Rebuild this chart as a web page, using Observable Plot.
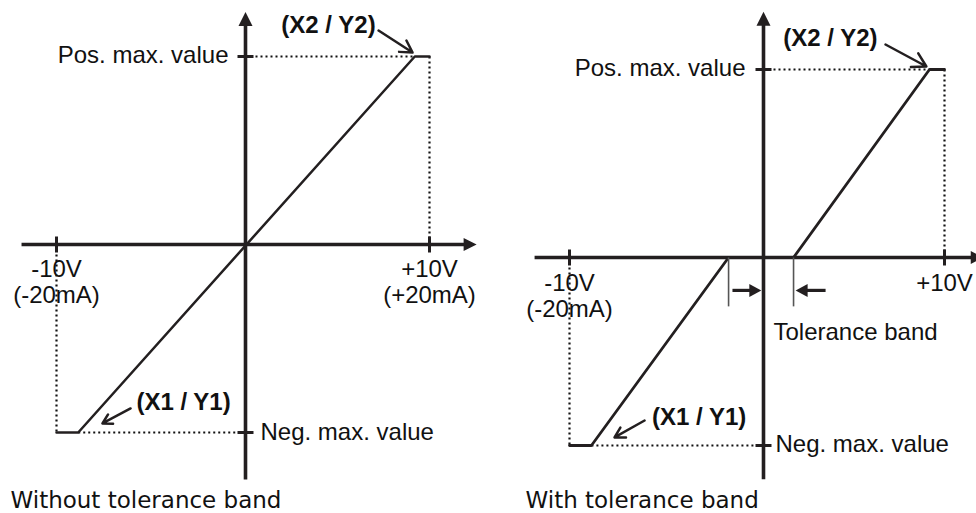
<!DOCTYPE html>
<html><head><meta charset="utf-8">
<script src="https://cdn.jsdelivr.net/npm/d3@7"></script>
<script src="https://cdn.jsdelivr.net/npm/@observablehq/plot@0.6"></script>
<style>
html,body{margin:0;padding:0;background:#fff;overflow:hidden;}
#wrap{display:flex;width:976px;height:513px;overflow:hidden;background:#fff;}
#wrap svg{flex:none;}
</style></head><body><div id="wrap"></div>
<script>
// ---------------- shared values ----------------
const xTicks = [-10, 10];                 // -10V / +10V
const yTicks = [-1, 1];                   // neg. / pos. max. value
const yTickLabels = ["Neg. max. value", "Pos. max. value"];
const pointLabels = ["(X1 / Y1)", "(X2 / Y2)"];

// ---------------- left panel: without tolerance band ----------------
const leftCurveX = [-10, -8.85, 9.2, 10];
const leftCurveY = [-1, -1, 1, 1];
const leftXAxis = [-11.85, 12.28];
const leftYAxis = [-1.25, 1.207];
const leftTickLabels = ["-10V\n(-20mA)", "+10V\n(+20mA)"];
const leftPointLabelX = [-3.28, 4.51];
const leftPointLabelY = [-0.84, 1.165];
const leftPointerX1 = [-6.08, 7.23];
const leftPointerY1 = [-0.872, 1.138];
const leftPointerX2 = [-7.57, 9.08];
const leftPointerY2 = [-0.952, 1.021];
const leftCaption = "Without tolerance band";

// ---------------- right panel: with tolerance band ----------------
const rightCurveX = [-10, -8.87, -1.8, 1.66, 9.17, 10];
const rightCurveY = [-1, -1, 0, 0, 1, 1];
const rightXAxis = [-11.8, 11.88];
const rightYAxis = [-1.18, 1.277];
const rightTickLabels = ["-10V\n(-20mA)", "+10V"];
const rightPointLabelX = [-3.32, 3.70];
const rightPointLabelY = [-0.851, 1.165];
const rightPointerX1 = [-6.13, 6.74];
const rightPointerY1 = [-0.867, 1.133];
const rightPointerX2 = [-7.68, 9.0];
const rightPointerY2 = [-0.957, 1.016];
const bandEdgesX = [-1.8, 1.66];
const bandEdgeDepth = -0.26;
const bandArrowFromX = [-1.6, 3.43];
const bandArrowToX = [-0.36, 2.04];
const bandArrowY = -0.175;
const bandLabel = "Tolerance band";
const bandLabelX = 0.55;
const bandLabelY = -0.399;
const rightCaption = "With tolerance band";

// ---------------- helpers ----------------
const INK = "#231f20";
const SANS = "'Liberation Sans', Arial, sans-serif";
const CAP = "'DejaVu Sans', Verdana, sans-serif";

// filled triangle pointing right, tip slightly ahead of the anchor point
function triangle(L, W) {
  return {draw(ctx) { ctx.moveTo(0.4 * L, 0); ctx.lineTo(-0.6 * L, -W / 2); ctx.lineTo(-0.6 * L, W / 2); ctx.closePath(); }};
}
// short bar used as a tick mark
function bar(h) {
  return {draw(ctx) { ctx.moveTo(0, -h); ctx.lineTo(0, h); }};
}

function panel(o) {
  const curve = o.curveX.map((x, i) => ({x, y: o.curveY[i]}));
  const n = curve.length;
  const guides = [
    {x1: xTicks[0], y1: 0, x2: xTicks[0], y2: yTicks[0]},
    {x1: curve[1].x, y1: yTicks[0], x2: 0, y2: yTicks[0]},
    {x1: 0, y1: yTicks[1], x2: curve[n - 2].x, y2: yTicks[1]},
    {x1: xTicks[1], y1: yTicks[1], x2: xTicks[1], y2: 0}
  ];
  const axes = [
    {x1: o.xAxis[0], y1: 0, x2: o.xAxis[1], y2: 0},
    {x1: 0, y1: o.yAxis[0], x2: 0, y2: o.yAxis[1]}
  ];
  const pointers = pointLabels.map((t, i) => ({x1: o.px1[i], y1: o.py1[i], x2: o.px2[i], y2: o.py2[i]}));
  const labels = pointLabels.map((t, i) => ({t, x: o.plx[i], y: o.ply[i]}));
  const marks = [
    Plot.link(guides, {x1: "x1", y1: "y1", x2: "x2", y2: "y2", stroke: "#111", strokeWidth: 2.2, strokeDasharray: "2,3"}),
    Plot.link(axes, {x1: "x1", y1: "y1", x2: "x2", y2: "y2", stroke: INK, strokeWidth: 3.6}),
    Plot.dot([{x: o.xAxis[1], y: 0}], {x: "x", y: "y", symbol: triangle(13, 13), r: 6, fill: INK, stroke: "none"}),
    Plot.dot([{x: 0, y: o.yAxis[1]}], {x: "x", y: "y", symbol: triangle(14, 14), r: 6, fill: INK, stroke: "none", rotate: -90}),
    Plot.dot(xTicks.map(x => ({x, y: 0})), {x: "x", y: "y", symbol: bar(8), r: 8, fill: "none", stroke: INK, strokeWidth: 3}),
    Plot.dot(yTicks.map(y => ({x: 0, y})), {x: "x", y: "y", symbol: bar(8), r: 8, fill: "none", stroke: INK, strokeWidth: 3, rotate: 90}),
    Plot.line(curve, {x: "x", y: "y", stroke: INK, strokeWidth: o.curveWidth, strokeLinejoin: "miter"}),
    Plot.arrow(pointers, {x1: "x1", y1: "y1", x2: "x2", y2: "y2", stroke: INK, strokeWidth: 2.5, headLength: 13, headAngle: 60}),
    Plot.text(labels, {x: "x", y: "y", text: "t", fontFamily: SANS, fontSize: 24, fontWeight: "bold", fill: "#111", lineAnchor: "middle"}),
    Plot.text(xTicks.map((x, i) => ({x, y: 0, t: o.tickLabels[i]})), {x: "x", y: "y", text: "t", fontFamily: SANS, fontSize: 24, fill: "#111", lineAnchor: "top", dy: o.tickDy, lineHeight: o.tickLineHeight}),
    Plot.text([{x: 0, y: yTicks[1], t: yTickLabels[1]}], {x: "x", y: "y", text: "t", fontFamily: SANS, fontSize: 24, fill: "#111", textAnchor: "end", dx: o.posDx, dy: -1}),
    Plot.text([{x: 0, y: yTicks[0], t: yTickLabels[0]}], {x: "x", y: "y", text: "t", fontFamily: SANS, fontSize: 24, fill: "#111", textAnchor: "start", dx: o.negDx, dy: o.negDy}),
    Plot.text([o.caption], {frameAnchor: "bottom-left", textAnchor: "start", lineAnchor: "bottom", dx: o.captionDx, dy: -6, fontFamily: CAP, fontSize: 23, fill: "#111"})
  ];
  if (o.extra) marks.push(...o.extra);
  return Plot.plot({
    width: o.width, height: 513, margin: 0,
    x: {type: "linear", domain: [-10, 0, 10], range: o.xRange, axis: null},
    y: {type: "linear", domain: [-1, 0, 1], range: o.yRange, axis: null},
    style: {background: "transparent", overflow: "visible"},
    marks
  });
}

const bandLines = bandEdgesX.map(x => ({x1: x, y1: 0, x2: x, y2: bandEdgeDepth}));
const bandArrows = bandArrowFromX.map((x, i) => ({x1: x, x2: bandArrowToX[i], y: bandArrowY, rot: x < bandArrowToX[i] ? 0 : 180}));
const rightExtra = [
  Plot.link(bandLines, {x1: "x1", y1: "y1", x2: "x2", y2: "y2", stroke: "#555", strokeWidth: 1.6}),
  Plot.link(bandArrows, {x1: "x1", x2: "x2", y1: "y", y2: "y", stroke: INK, strokeWidth: 3.2}),
  Plot.dot(bandArrows.filter(d => d.rot === 0), {x: "x2", y: "y", symbol: triangle(12, 13), r: 6, fill: INK, stroke: "none"}),
  Plot.dot(bandArrows.filter(d => d.rot === 180), {x: "x2", y: "y", symbol: triangle(12, 13), r: 6, fill: INK, stroke: "none", rotate: 180}),
  Plot.text([{x: bandLabelX, y: bandLabelY, t: bandLabel}], {x: "x", y: "y", text: "t", fontFamily: SANS, fontSize: 24, fill: "#111", textAnchor: "start"})
];

const left = panel({
  width: 490, xRange: [56, 245, 429], yRange: [432, 244, 56],
  curveX: leftCurveX, curveY: leftCurveY, xAxis: leftXAxis, yAxis: leftYAxis,
  tickLabels: leftTickLabels, tickDy: 15, tickLineHeight: 1.05,
  plx: leftPointLabelX, ply: leftPointLabelY,
  px1: leftPointerX1, py1: leftPointerY1, px2: leftPointerX2, py2: leftPointerY2,
  posDx: -17, negDx: 15, negDy: 0, curveWidth: 2.5,
  caption: leftCaption, captionDx: 10
});
const right = panel({
  width: 486, xRange: [79, 273, 454], yRange: [445, 257, 69],
  curveX: rightCurveX, curveY: rightCurveY, xAxis: rightXAxis, yAxis: rightYAxis,
  tickLabels: rightTickLabels, tickDy: 14, tickLineHeight: 1.12,
  plx: rightPointLabelX, ply: rightPointLabelY,
  px1: rightPointerX1, py1: rightPointerY1, px2: rightPointerX2, py2: rightPointerY2,
  posDx: -18, negDx: 12, negDy: -1, curveWidth: 2.8,
  caption: rightCaption, captionDx: 35, extra: rightExtra
});
document.getElementById("wrap").append(left, right);
</script>
</body></html>
